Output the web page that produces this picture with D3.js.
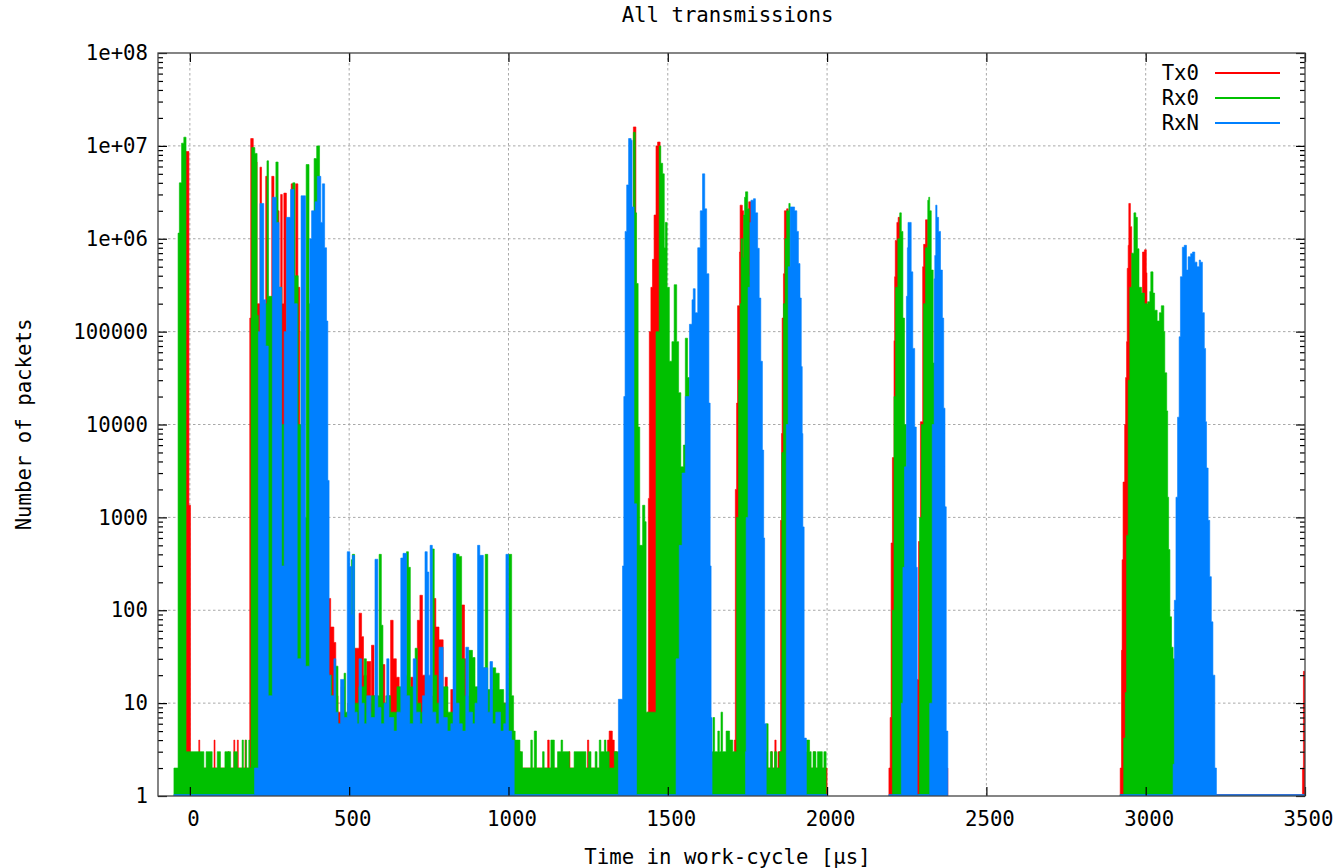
<!DOCTYPE html>
<html>
<head>
<meta charset="utf-8">
<script src="https://cdnjs.cloudflare.com/ajax/libs/d3/7.8.5/d3.min.js"></script>
<style>
    body { margin: 0; background: #fff; }
    text { font-family: "DejaVu Sans Mono", monospace; }
</style>
</head>
<body>
<div id="main"></div>
<script>
// [time in µs, packets] - a value holds until the next time, null = no data
var tx0 = [
    [-12, 8.7e6], [-3, 1350], [2, 2],
    [28, 4], [31, 2], [76, 4], [79, 2], [120, 3], [123, 2], [138, 4], [141, 2], [149, 4], [152, 2], [173, 4], [176, 2],
    [188, 1.4e5], [191, 1.2e7], [199, 3e6], [204, 6.7e6], [211, 2e5], [220, 5.9e6], [225, 5e4], [238, 4.7e6], [242, 1e3],
    [257, 4.7e6], [264, 5e5], [270, 2e3], [277, 2e6], [280, 3e3], [285, 3e6], [290, 2e5], [295, 3.1e6], [303, 2e4],
    [318, 3.9e6], [327, 1e4], [332, 3.9e6], [339, 3e5], [345, 1e3], [350, 50], [429, 40],
    [434, 134], [442, 66], [452, 45], [458, 12], [465, 8], [475, 15], [485, 6], [495, 10], [505, 8], [518, 39], [531, 93],
    [539, 52], [545, 20], [555, 28], [568, 10], [570, 42], [578, 12], [590, 8], [604, 26], [612, 8], [622, 12], [630, 78],
    [638, 30], [648, 19], [657, 8], [670, 10], [680, 6], [693, 19], [701, 8], [714, 78], [722, 145], [730, 20], [745, 8],
    [764, 134], [772, 66], [782, 48], [795, 12], [801, 19], [808, 6], [819, 14], [826, 6], [845, 8], [853, 114], [862, 30],
    [870, 8], [890, 6], [910, 5], [930, 10], [945, 6], [960, 8], [980, 10], [995, 5], [1010, 3],
    [1021, 2], [1035, 3], [1039, 2], [1123, 4], [1128, 2], [1190, 3], [1193, 2], [1248, 4], [1252, 2], [1311, 4], [1316, 5],
    [1326, 4], [1332, 3], [1340, 2],
    [1392, 1.6e7], [1400, 2], [1436, 8], [1439, 1600], [1442, 1e5], [1447, 3e5], [1452, 6e5], [1457, 1.8e6], [1463, 1e7],
    [1468, 1.1e7], [1476, 1e5], [1480, 10], [1490, 2],
    [1709, 4], [1712, 2000], [1716, 1.7e4], [1719, 1.9e5], [1725, 7.2e5], [1727, 2.3e6], [1734, 2e6], [1738, 1e5],
    [1748, 1e6], [1754, 2.5e6], [1761, 5], [1765, 2],
    [1824, 3], [1828, 2], [1836, 4], [1840, 2], [1846, 3],
    [1854, 930], [1857, 8000], [1859, 1.4e5], [1863, 4.2e5], [1866, 2e6], [1873, 2.1e6], [1878, 1e3], [1882, 2],
    [1958, 3], [1961, 2], [2000, null],
    [2194, 2], [2198, 7], [2201, 530], [2205, 4400], [2210, 8e4], [2212, 3.9e5], [2214, 9.6e5], [2219, 1.5e6], [2223, 1.7e6],
    [2230, 10], [2235, 2], [2282, 18], [2287, 550], [2293, 1.07e4], [2300, 5e5], [2303, 8.7e5], [2309, 1.6e6], [2316, 10],
    [2320, 2], [2379, null],
    [2920, 2], [2924, 37], [2926, 350], [2929, 2400], [2934, 1e4], [2937, 3.2e4], [2940, 7.8e4], [2942, 4.8e5], [2945, 8.5e5],
    [2947, 2.4e6], [2952, 1.35e6], [2956, 1e4], [2960, 2], [2990, 7.2e5], [2996, 7.6e5], [3002, 4.3e5], [3004, 6e4],
    [3006, 1], [3492, 2], [3495, 22], [3502, null]
];

var rx0 = [
    [-50, 2], [-37, 1.15e6], [-33, 4e6], [-26, 1.07e7], [-19, 1.24e7], [-12, 3],
    [44, 2], [51, 3], [70, 2], [86, 3], [96, 2], [110, 3], [128, 2], [138, 3], [149, 2], [164, 4], [168, 2], [175, 4],
    [178, 2], [185, 4], [188, 2],
    [192, 1.4e5], [194, 9.6e6], [204, 8.3e6], [211, 1.5e5], [215, 3e3], [225, 2e5], [242, 6.9e6], [247, 2.4e5], [259, 1e4],
    [270, 6.7e6], [277, 3e5], [288, 1e4], [296, 300], [303, 1e5], [316, 5e4], [323, 4e6], [330, 4e5], [340, 1e4], [349, 1e5],
    [360, 1e3], [365, 6.3e6], [374, 2e5], [380, 1e3], [390, 7.3e6], [398, 1e7], [407, 1e6], [411, 2e5], [420, 1e4], [430, 20],
    [437, 20], [445, 12], [452, 10], [458, 25], [465, 6], [484, 21], [489, 8], [497, 10], [507, 350], [510, 400], [517, 10],
    [530, 15], [547, 30], [554, 8], [570, 12], [594, 400], [601, 69], [606, 10], [615, 12], [630, 8], [650, 15], [670, 20],
    [680, 427], [686, 290], [692, 15], [707, 39], [714, 10], [725, 8], [740, 12], [761, 457], [767, 20], [775, 10], [790, 15],
    [810, 8], [835, 400], [845, 380], [853, 30], [862, 12], [875, 37], [887, 31], [895, 15], [910, 12], [921, 24], [927, 400],
    [935, 14], [950, 24], [960, 21], [971, 14], [985, 10], [1000, 400], [1010, 12], [1016, 5],
    [1021, 4], [1036, 3], [1044, 2], [1070, 4], [1075, 2], [1081, 5], [1088, 2], [1107, 3], [1112, 2], [1133, 4], [1144, 2],
    [1154, 3], [1165, 4], [1170, 3], [1191, 2], [1206, 3], [1243, 2], [1251, 3], [1259, 2], [1272, 3], [1278, 2], [1285, 4],
    [1290, 3], [1301, 4], [1306, 3], [1316, 2], [1332, 3],
    [1392, 1.4e7], [1398, 1.9e6], [1402, 3.3e5], [1407, 9400], [1412, 500], [1421, 1350], [1428, 900], [1432, 8],
    [1463, 1e5], [1473, 1e7], [1478, 6.5e6], [1484, 5e6], [1489, 8e5], [1492, 1.5e6], [1498, 3e5], [1505, 4.8e4],
    [1513, 7.8e4], [1520, 3.2e5], [1528, 7.8e4], [1534, 2.2e4], [1541, 3500], [1549, 6000], [1555, 8.5e4], [1562, 3.2e4],
    [1568, 1e4], [1590, 3],
    [1639, 3], [1642, 7], [1647, 3], [1657, 5], [1662, 3], [1667, 8], [1672, 3], [1683, 5], [1694, 4], [1704, 3],
    [1716, 1e3], [1722, 3e4], [1727, 2e5], [1730, 1e6], [1735, 6.3e5], [1738, 1.8e6], [1741, 2.8e6], [1744, 3.2e6],
    [1751, 2.1e6], [1756, 4e5], [1761, 5e3], [1765, 3],
    [1809, 6], [1815, 2], [1822, 3], [1828, 2], [1835, 3], [1842, 2], [1850, 3],
    [1858, 5e3], [1863, 2e5], [1868, 1e6], [1873, 2e6], [1880, 2.4e6], [1884, 1e5], [1890, 3],
    [1935, 4], [1945, 3], [1950, 2], [1956, 3], [1965, 2], [1970, 3], [1985, 2], [1990, 3], [1997, null],
    [2205, 100], [2210, 2e4], [2215, 3e5], [2222, 1e6], [2228, 1.9e6], [2233, 1.2e6], [2238, 1.4e5], [2243, 1e4], [2249, 1],
    [2290, 1e3], [2296, 1e4], [2303, 2e5], [2309, 8e5], [2316, 2.6e6], [2319, 2.8e6], [2322, 2e6], [2327, 4.6e5],
    [2333, 4.6e4], [2338, 3], [2375, null],
    [2920, 1], [2931, 4.2], [2936, 13], [2940, 640], [2945, 3e4], [2950, 3e5], [2956, 7e5], [2963, 1.9e6], [2969, 1.7e6],
    [2974, 7.8e5], [2979, 3e5], [2987, 2.6e5], [2996, 2e5], [3006, 2.1e5], [3013, 2.7e5], [3016, 4.4e5], [3023, 2.6e5],
    [3028, 1.7e5], [3036, 1.3e5], [3043, 1.6e5], [3049, 1.9e5], [3057, 1e5], [3060, 3.6e4], [3066, 1.4e4], [3069, 1650],
    [3072, 450], [3076, 85], [3081, 40], [3086, 30], [3095, null]
];

var rxN = [
    [-50, 1], [203, 2], [215, 1e5], [220, 2.4e6], [232, 2.2e5], [238, 7e4], [246, 12], [259, 2.8e6], [271, 1.5e6], [280, 3e5],
    [288, 300], [296, 1e5], [303, 1.7e6], [316, 3.4e6], [327, 2e5], [337, 30], [349, 2.9e6], [363, 25], [376, 1e6],
    [382, 2e6], [393, 2.5e6], [400, 4.7e6], [411, 1.5e6], [416, 3.9e6], [423, 8e5], [429, 1.3e5], [433, 2.5e3],
    [437, 20], [442, 12], [452, 30], [458, 8], [465, 6], [473, 18], [484, 7], [494, 427], [502, 295], [507, 90], [510, 390],
    [517, 8], [525, 6], [531, 30], [539, 10], [547, 6], [555, 12], [568, 7], [581, 354], [590, 9], [600, 6], [610, 10],
    [618, 30], [625, 7], [640, 5], [650, 8], [662, 365], [669, 410], [680, 12], [690, 6], [701, 30], [710, 8], [722, 6],
    [730, 12], [738, 427], [745, 258], [750, 20], [754, 500], [761, 8], [772, 6], [782, 40], [795, 7], [808, 5], [819, 6],
    [826, 410], [835, 10], [845, 6], [855, 5], [866, 40], [875, 8], [887, 6], [895, 10], [903, 500], [910, 390], [921, 24],
    [935, 8], [942, 28], [950, 6], [960, 8], [975, 5], [985, 6], [992, 400], [1000, 5], [1010, 4], [1018, 1],
    [1345, 11], [1358, 300], [1362, 2e4], [1366, 1.2e6], [1371, 3.8e6], [1377, 1.2e7], [1385, 1.15e7], [1388, 2.2e6],
    [1394, 1400], [1402, 1],
    [1526, 30], [1536, 500], [1545, 3e3], [1555, 2e4], [1568, 1.2e5], [1576, 2.2e5], [1580, 2.9e5], [1586, 1.6e5],
    [1594, 8e5], [1602, 2e6], [1609, 5e6], [1616, 2.1e6], [1622, 4.2e5], [1629, 1.7e4], [1633, 300], [1636, 7], [1639, 1],
    [1744, 3], [1746, 1e3], [1752, 3e5], [1758, 1.5e6], [1761, 2.6e6], [1769, 2.7e6], [1775, 1.9e6], [1782, 7.9e5],
    [1787, 2.3e5], [1792, 4.8e4], [1797, 5300], [1801, 600], [1804, 6], [1809, 1],
    [1872, 1e4], [1878, 5e5], [1884, 2.2e6], [1898, 2e6], [1905, 1.2e6], [1910, 5.4e5], [1915, 2.3e5], [1919, 4.2e4],
    [1922, 8000], [1924, 790], [1928, 4.2], [1935, 1], [2000, null],
    [2194, 1], [2233, 10], [2238, 290], [2243, 3500], [2249, 2.4e5], [2252, 8e5], [2254, 1.5e6], [2264, 4.4e5], [2269, 6.6e4],
    [2275, 9400], [2280, 290], [2283, 1], [2322, 10], [2330, 1e4], [2336, 3.7e5], [2338, 6.6e5], [2341, 2.3e6], [2345, 1.7e6],
    [2350, 1.2e6], [2356, 4.6e5], [2362, 1.4e5], [2366, 1.5e4], [2370, 1300], [2374, 5], [2379, null],
    [2920, 1], [3086, 2.2], [3090, 128], [3095, 1650], [3100, 1.2e4], [3105, 8.8e4], [3109, 3.9e5], [3115, 8.1e5],
    [3121, 8.5e5], [3128, 4.6e5], [3133, 6.4e5], [3141, 6.9e5], [3147, 7.2e5], [3154, 5.6e5], [3161, 5e5], [3168, 5.9e5],
    [3172, 5.6e5], [3178, 1.6e5], [3184, 6.6e4], [3188, 1.07e4], [3191, 3400], [3196, 930], [3201, 230], [3206, 75],
    [3211, 20], [3217, 2], [3222, 1], [3500, null]
];

var seriesNames = ["Tx0", "Rx0", "RxN"];
var seriesColors = ["#ff0000", "#00c000", "#0080ff"];
var xTicks = [0, 500, 1000, 1500, 2000, 2500, 3000, 3500];
var yTicks = [1, 10, 100, 1000, 1e4, 1e5, 1e6, 1e7, 1e8];
var yTickLabels = ["1", "10", "100", "1000", "10000", "100000", "1e+06", "1e+07", "1e+08"];

const width = 1343;
const height = 868;
const padLeft = 158, padRight = 1305, padTop = 53, padBottom = 796;
const fontSize = "20.7px";
const textCenter = 727.5;

const svg = d3
    .select("#main")
    .append("svg")
    .attr("width", width)
    .attr("height", height);

const xScale = d3.scaleLinear().domain([-100, 3500]).range([padLeft, padRight]);
const yScale = d3.scaleLog().domain([1, 1e8]).range([padBottom, padTop]);

// minor log ticks 2..9 per decade
var yMinor = [];
yTicks.slice(0, -1).forEach((d) => {
    for (var k = 2; k < 10; k++) yMinor.push(d * k);
});

// grid
const grid = svg.append("g").attr("id", "grid")
    .style("stroke", "#a8a8a8")
    .style("stroke-width", 1)
    .style("stroke-dasharray", "2.5,2.5");
grid.selectAll("line.gx")
    .data(xTicks.filter((d) => d < 3500))
    .enter()
    .append("line")
    .attr("x1", (d) => xScale(d)).attr("x2", (d) => xScale(d))
    .attr("y1", padTop).attr("y2", padBottom);
grid.selectAll("line.gy")
    .data(yTicks.slice(1, -1))
    .enter()
    .append("line")
    .attr("x1", padLeft).attr("x2", padRight)
    .attr("y1", (d) => yScale(d)).attr("y2", (d) => yScale(d));

svg.append("clipPath").attr("id", "plotclip")
    .append("rect")
    .attr("x", padLeft).attr("y", padTop)
    .attr("width", padRight - padLeft).attr("height", padBottom - padTop);

const plot = svg.append("g").attr("clip-path", "url(#plotclip)");

// step outline: every value spans to the next time, null breaks the path
function stepPoints(data) {
    var pts = [];
    for (var i = 0; i < data.length - 1; i++) {
        if (data[i][1] === null) {
            pts.push(null);
            continue;
        }
        pts.push([data[i][0], data[i][1]]);
        pts.push([data[i + 1][0], data[i][1]]);
    }
    return pts;
}

const area = d3.area()
    .defined((d) => d !== null)
    .x((d) => xScale(d[0]))
    .y0(padBottom)
    .y1((d) => Math.min(yScale(d[1]), padBottom - 1.5));

[tx0, rx0, rxN].forEach((data, i) => {
    plot.append("path")
        .datum(stepPoints(data))
        .attr("d", area)
        .style("fill", seriesColors[i])
        .style("stroke", seriesColors[i])
        .style("stroke-width", 0.6);
});

// axes, ticks pointing inward
function styleAxis(g) {
    g.select(".domain").remove();
    g.selectAll(".tick line").style("stroke", "#000").style("stroke-width", 1.2);
    g.selectAll("text")
        .style("font-family", "'DejaVu Sans Mono', monospace")
        .style("font-size", fontSize)
        .style("fill", "#000");
}

svg.append("g")
    .attr("transform", "translate(" + padLeft + ",0)")
    .call(d3.axisLeft(yScale).tickValues(yTicks)
        .tickFormat((d, i) => yTickLabels[i])
        .tickSizeInner(-9).tickSizeOuter(0).tickPadding(10))
    .call(styleAxis);
svg.append("g")
    .attr("transform", "translate(" + padLeft + ",0)")
    .call(d3.axisLeft(yScale).tickValues(yMinor).tickFormat("")
        .tickSizeInner(-5).tickSizeOuter(0))
    .call(styleAxis);
svg.append("g")
    .attr("transform", "translate(" + padRight + ",0)")
    .call(d3.axisRight(yScale).tickValues(yTicks).tickFormat("")
        .tickSizeInner(-9).tickSizeOuter(0))
    .call(styleAxis);
svg.append("g")
    .attr("transform", "translate(" + padRight + ",0)")
    .call(d3.axisRight(yScale).tickValues(yMinor).tickFormat("")
        .tickSizeInner(-5).tickSizeOuter(0))
    .call(styleAxis);
svg.append("g")
    .attr("transform", "translate(0," + padBottom + ")")
    .call(d3.axisBottom(xScale).tickValues(xTicks)
        .tickFormat(d3.format("d"))
        .tickSizeInner(-9).tickSizeOuter(0).tickPadding(15))
    .call(styleAxis)
    .selectAll("text").attr("dx", 3);
svg.append("g")
    .attr("transform", "translate(0," + padTop + ")")
    .call(d3.axisTop(xScale).tickValues(xTicks).tickFormat("")
        .tickSizeInner(-9).tickSizeOuter(0))
    .call(styleAxis);

// border
svg.append("rect")
    .attr("x", padLeft).attr("y", padTop)
    .attr("width", padRight - padLeft).attr("height", padBottom - padTop)
    .style("fill", "none")
    .style("stroke", "#444")
    .style("stroke-width", 1.3);

// legend
const legend = svg.append("g").attr("id", "legend");
seriesNames.forEach((name, i) => {
    var y = 73 + i * 25;
    legend.append("text")
        .attr("x", 1199).attr("y", y)
        .attr("dy", "0.35em")
        .attr("text-anchor", "end")
        .style("font-size", fontSize)
        .text(name);
    legend.append("line")
        .attr("x1", 1215).attr("x2", 1280)
        .attr("y1", y).attr("y2", y)
        .style("stroke", seriesColors[i])
        .style("stroke-width", 2);
});

// titles
svg.append("text")
    .attr("x", textCenter).attr("y", 22)
    .attr("text-anchor", "middle")
    .style("font-size", fontSize)
    .text("All transmissions");

svg.append("text")
    .attr("x", textCenter).attr("y", 864)
    .attr("text-anchor", "middle")
    .style("font-size", fontSize)
    .text("Time in work-cycle [µs]");

svg.append("text")
    .attr("transform", "translate(31," + (padTop + padBottom) / 2 + ") rotate(-90)")
    .attr("text-anchor", "middle")
    .style("font-size", fontSize)
    .text("Number of packets");
</script>
</body>
</html>
